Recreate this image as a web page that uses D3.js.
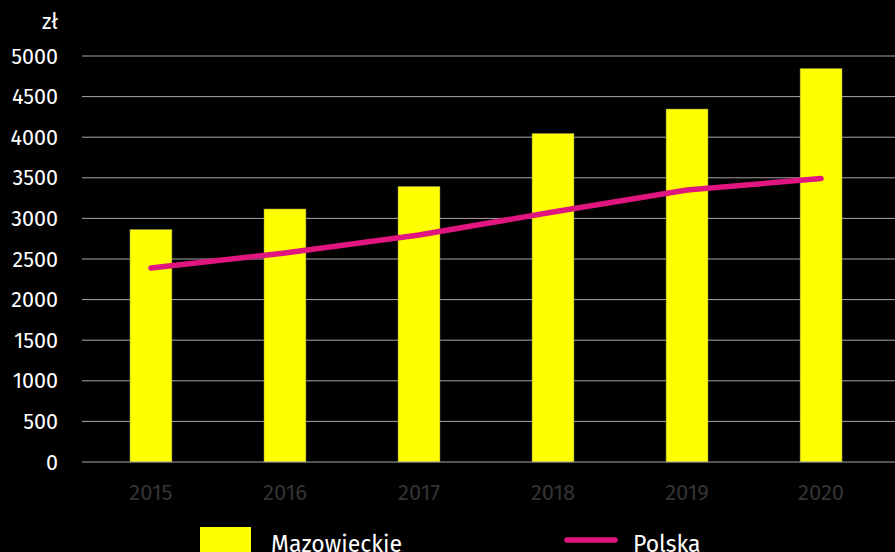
<!DOCTYPE html>
<html>
<head>
<meta charset="utf-8">
<script src="https://cdn.jsdelivr.net/npm/d3@7"></script>
<style>
  body { margin: 0; background: #000; }
  svg { display: block; font-family: "Fira Sans", "Open Sans", sans-serif; }
</style>
</head>
<body>
<div id="chart"></div>
<script>
// data
const years = ["2015", "2016", "2017", "2018", "2019", "2020"];
const mazowieckie = [2863, 3116, 3393, 4046, 4347, 4846];
const polska = [2389, 2574, 2796, 3079, 3350, 3491];
const yTicks = [0, 500, 1000, 1500, 2000, 2500, 3000, 3500, 4000, 4500, 5000];

const width = 895, height = 552;

const svg = d3.select("#chart").append("svg")
  .attr("width", width)
  .attr("height", height);

svg.append("rect").attr("width", width).attr("height", height).attr("fill", "#000");

const x = d3.scaleBand().domain(years).range([84, 888]).paddingInner(0.687).paddingOuter(0.343);
const y = d3.scaleLinear().domain([0, 5000]).range([462, 56]);

// gridlines
svg.append("g")
  .selectAll("line")
  .data(yTicks.filter(d => d > 0))
  .join("line")
  .attr("x1", 82).attr("x2", width)
  .attr("y1", d => y(d)).attr("y2", d => y(d))
  .attr("stroke", "#a6a6a6").attr("stroke-width", 1);

// y labels
svg.append("g")
  .selectAll("text")
  .data(yTicks)
  .join("text")
  .attr("x", 58).attr("y", d => y(d))
  .attr("dy", "0.35em")
  .attr("text-anchor", "end")
  .attr("fill", "#fff")
  .attr("font-size", 21.5)
  .text(d => d);

svg.append("text")
  .attr("x", 58).attr("y", 29)
  .attr("text-anchor", "end")
  .attr("fill", "#fff")
  .attr("font-size", 21.5)
  .text("zł");

// bars
svg.append("g")
  .selectAll("rect")
  .data(years.map((yr, i) => ({ yr, v: mazowieckie[i] })))
  .join("rect")
  .attr("x", d => x(d.yr))
  .attr("width", x.bandwidth())
  .attr("y", d => y(d.v))
  .attr("height", d => y(0) - y(d.v))
  .attr("fill", "#ffff00")
  .attr("stroke", "#8c8c50").attr("stroke-width", 0.5);

// x axis line
svg.append("line")
  .attr("x1", 82).attr("x2", width)
  .attr("y1", y(0)).attr("y2", y(0))
  .attr("stroke", "#a6a6a6").attr("stroke-width", 1);

// x labels
svg.append("g")
  .selectAll("text")
  .data(years)
  .join("text")
  .attr("x", d => x(d) + x.bandwidth() / 2)
  .attr("y", 500)
  .attr("text-anchor", "middle")
  .attr("fill", "#333")
  .attr("font-size", 22)
  .text(d => d);

// line
const line = d3.line()
  .x((d, i) => x(years[i]) + x.bandwidth() / 2)
  .y(d => y(d));

svg.append("path")
  .datum(polska)
  .attr("d", line)
  .attr("fill", "none")
  .attr("stroke", "#e0157f")
  .attr("stroke-width", 5.5)
  .attr("stroke-linecap", "round")
  .attr("stroke-linejoin", "round");

// legend
svg.append("rect")
  .attr("x", 200).attr("y", 527)
  .attr("width", 51).attr("height", 30)
  .attr("fill", "#ffff00");
svg.append("text")
  .attr("x", 271).attr("y", 552)
  .attr("fill", "#fff").attr("font-size", 23)
  .text("Mazowieckie");

svg.append("line")
  .attr("x1", 567).attr("x2", 615)
  .attr("y1", 540).attr("y2", 540)
  .attr("stroke", "#e0157f").attr("stroke-width", 5.5)
  .attr("stroke-linecap", "round");
svg.append("text")
  .attr("x", 633).attr("y", 552)
  .attr("fill", "#fff").attr("font-size", 23)
  .text("Polska");
</script>
</body>
</html>
